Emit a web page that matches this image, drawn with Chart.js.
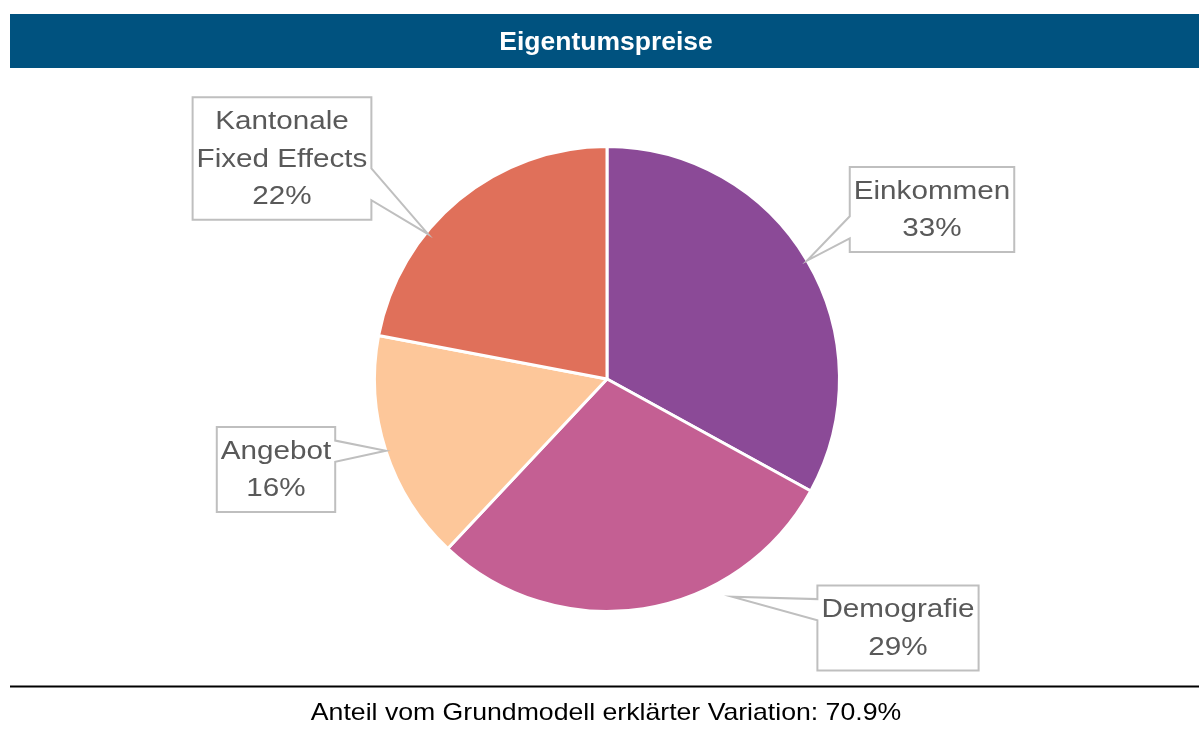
<!DOCTYPE html>
<html>
<head>
<meta charset="utf-8">
<script src="https://cdn.jsdelivr.net/npm/chart.js@4.4.0/dist/chart.umd.min.js"></script>
<style>
  html, body { margin: 0; padding: 0; background: #ffffff; }
  #wrap { position: relative; width: 1199px; height: 729px; }
</style>
</head>
<body>
<div id="wrap"><canvas id="c" width="1199" height="729"></canvas></div>
<script>
// ---- Data ----
const categories = [['Einkommen'], ['Demografie'], ['Angebot'], ['Kantonale', 'Fixed Effects']];
const values = [33, 29, 16, 22];
const colors = ['#8B4A97', '#C45F93', '#FDC79A', '#E0705A'];
const titleText = 'Eigentumspreise';
const footerText = 'Anteil vom Grundmodell erklärter Variation: 70.9%';

// Callout styling / placement (offsets of box centre from pie centre, px)
const calloutBoxOffset = [[325, -169.5], [291, 249], [-331, 90.5], [-325, -220.5]];
// where the pointer tip sits: fraction along the slice angle, radius factor
const calloutTip = [[0.5, 1.0], [0.3, 1.08], [0.5, 1.0], [0.356, 0.99]];

const decorPlugin = {
  id: 'decor',
  beforeDraw(chart) {
    const ctx = chart.ctx;
    ctx.save();
    // title bar
    ctx.fillStyle = '#00527F';
    ctx.fillRect(10, 14, 1189, 54);
    ctx.fillStyle = '#ffffff';
    ctx.font = 'bold 25px "Liberation Sans", Arial, sans-serif';
    ctx.textAlign = 'center';
    ctx.textBaseline = 'middle';
    ctx.translate(606, 43);
    ctx.scale(1.06, 1);
    ctx.fillText(titleText, 0, 0);
    ctx.restore();

    // footer rule and text
    ctx.save();
    ctx.strokeStyle = '#000000';
    ctx.lineWidth = 2;
    ctx.beginPath();
    ctx.moveTo(10, 686.5);
    ctx.lineTo(1199, 686.5);
    ctx.stroke();
    ctx.fillStyle = '#000000';
    ctx.font = '24px "Liberation Sans", Arial, sans-serif';
    ctx.textAlign = 'center';
    ctx.textBaseline = 'middle';
    ctx.translate(606, 713);
    ctx.scale(1.11, 1);
    ctx.fillText(footerText, 0, 0);
    ctx.restore();
  },
  afterDatasetsDraw(chart) {
    const ctx = chart.ctx;
    const meta = chart.getDatasetMeta(0);
    const total = values.reduce((a, b) => a + b, 0);
    const fontSize = 26, stretch = 1.14, lineH = 37.5, padX = 4, padY = 5;
    ctx.save();
    ctx.font = fontSize + 'px "Liberation Sans", Arial, sans-serif';
    meta.data.forEach((arc, i) => {
      const p = arc.getProps(['x', 'y', 'startAngle', 'endAngle', 'outerRadius'], true);
      const lines = categories[i].concat([Math.round(values[i] / total * 100) + '%']);
      let maxW = 0;
      lines.forEach(l => { maxW = Math.max(maxW, ctx.measureText(l).width * stretch); });
      const w = maxW + padX * 2;
      const h = lines.length * lineH + padY * 2;
      const cx = p.x + calloutBoxOffset[i][0];
      const cy = p.y + calloutBoxOffset[i][1];
      const x0 = cx - w / 2, x1 = cx + w / 2, y0 = cy - h / 2, y1 = cy + h / 2;
      const a = p.startAngle + (p.endAngle - p.startAngle) * calloutTip[i][0];
      const r = p.outerRadius * calloutTip[i][1];
      const tx = p.x + Math.cos(a) * r;
      const ty = p.y + Math.sin(a) * r;
      const upper = ty < cy;
      const b0 = y0 + h * (upper ? 0.16 : 0.58);
      const b1 = y0 + h * (upper ? 0.41 : 0.84);
      ctx.beginPath();
      if (tx > x1) {
        ctx.moveTo(x0, y0); ctx.lineTo(x1, y0); ctx.lineTo(x1, b0);
        ctx.lineTo(tx, ty); ctx.lineTo(x1, b1);
        ctx.lineTo(x1, y1); ctx.lineTo(x0, y1); ctx.closePath();
      } else {
        ctx.moveTo(x1, y0); ctx.lineTo(x1, y1); ctx.lineTo(x0, y1); ctx.lineTo(x0, b1);
        ctx.lineTo(tx, ty); ctx.lineTo(x0, b0);
        ctx.lineTo(x0, y0); ctx.closePath();
      }
      ctx.fillStyle = '#ffffff';
      ctx.fill();
      ctx.strokeStyle = '#BFBFBF';
      ctx.lineWidth = 2;
      ctx.lineJoin = 'miter';
      ctx.stroke();
      ctx.fillStyle = '#595959';
      ctx.textAlign = 'center';
      ctx.textBaseline = 'middle';
      lines.forEach((l, k) => {
        ctx.save();
        ctx.translate(cx, y0 + padY + lineH * (k + 0.5));
        ctx.scale(stretch, 1);
        ctx.fillText(l, 0, 1);
        ctx.restore();
      });
    });
    ctx.restore();
  }
};

new Chart(document.getElementById('c'), {
  type: 'pie',
  data: {
    labels: categories.map(c => c.join(' ')),
    datasets: [{
      data: values,
      backgroundColor: colors,
      borderColor: '#ffffff',
      borderWidth: 3
    }]
  },
  options: {
    responsive: false,
    animation: false,
    layout: { padding: { left: 373, right: 358, top: 145, bottom: 116 } },
    plugins: {
      legend: { display: false },
      tooltip: { enabled: false },
      title: { display: false }
    }
  },
  plugins: [decorPlugin]
});
</script>
</body>
</html>
